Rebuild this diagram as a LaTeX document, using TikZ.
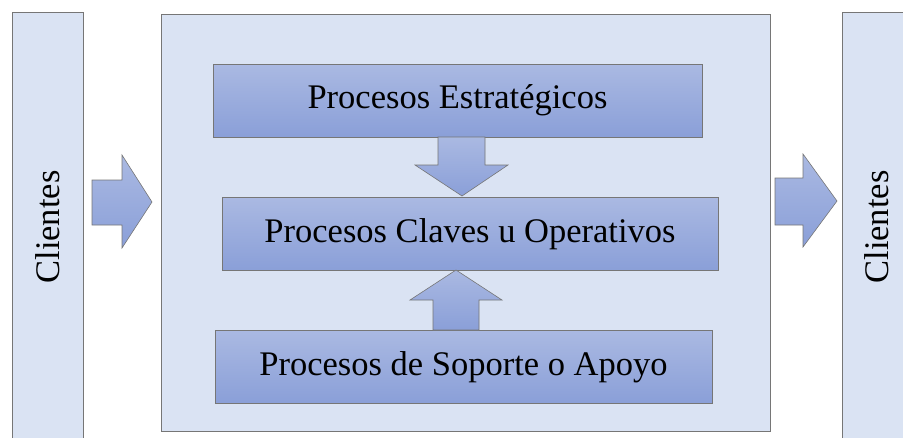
\documentclass[tikz,border=0pt]{standalone}
\usepackage{fontspec}
\setmainfont{Liberation Serif}
\definecolor{bgblue}{HTML}{DAE3F3}
\definecolor{topblue}{HTML}{AAB9E2}
\definecolor{botblue}{HTML}{8A9FD8}
\definecolor{edgegray}{HTML}{767676}
\tikzset{
  panel/.style={draw=edgegray, line width=0.9pt, fill=bgblue},
  procbox/.style={draw=edgegray, line width=0.9pt, top color=topblue, bottom color=botblue,
     minimum height=73pt, inner sep=0pt, font=\fontsize{34.5pt}{40pt}\selectfont},
  blockarrow/.style={draw=edgegray, line width=0.6pt, top color=topblue, bottom color=botblue},
  sidelabel/.style={rotate=90, font=\fontsize{34.5pt}{40pt}\selectfont, inner sep=0pt}
}
\begin{document}
\begin{tikzpicture}[x=1pt, y=-1pt]
\useasboundingbox (0,0) rectangle (903,437);
% side panels
\draw[panel] (12,12) rectangle (83,450);
\node[sidelabel] (cliL) at (47.5,227) {Clientes};
\draw[panel] (842,12) rectangle (915,450);
\node[sidelabel] (cliR) at (877,227) {Clientes};
% main panel
\draw[panel] (161,14) rectangle (770,431);
% process boxes
\node[procbox, minimum width=489pt] (est) at (457.5,100.5) {Procesos Estratégicos};
\node[procbox, minimum width=496pt] (cla) at (470,234) {Procesos Claves u Operativos};
\node[procbox, minimum width=497pt] (sop) at (463.5,367) {Procesos de Soporte o Apoyo};
% left and right block arrows
\draw[blockarrow] (92,180) -- (122,180) -- (122,155) -- (152,202) -- (122,248) -- (122,225) -- (92,225) -- cycle;
\draw[blockarrow] (775,178) -- (803,178) -- (803,154) -- (837,201) -- (803,247) -- (803,225) -- (775,225) -- cycle;
% down arrow (estrategicos -> claves)
\draw[blockarrow] (438,137) -- (485,137) -- (485,165) -- (508,165) -- (462,196) -- (415,165) -- (438,165) -- cycle;
% up arrow (soporte -> claves)
\draw[blockarrow] (433,330) -- (479,330) -- (479,300) -- (502,300) -- (456,270) -- (410,300) -- (433,300) -- cycle;
\end{tikzpicture}
\end{document}
